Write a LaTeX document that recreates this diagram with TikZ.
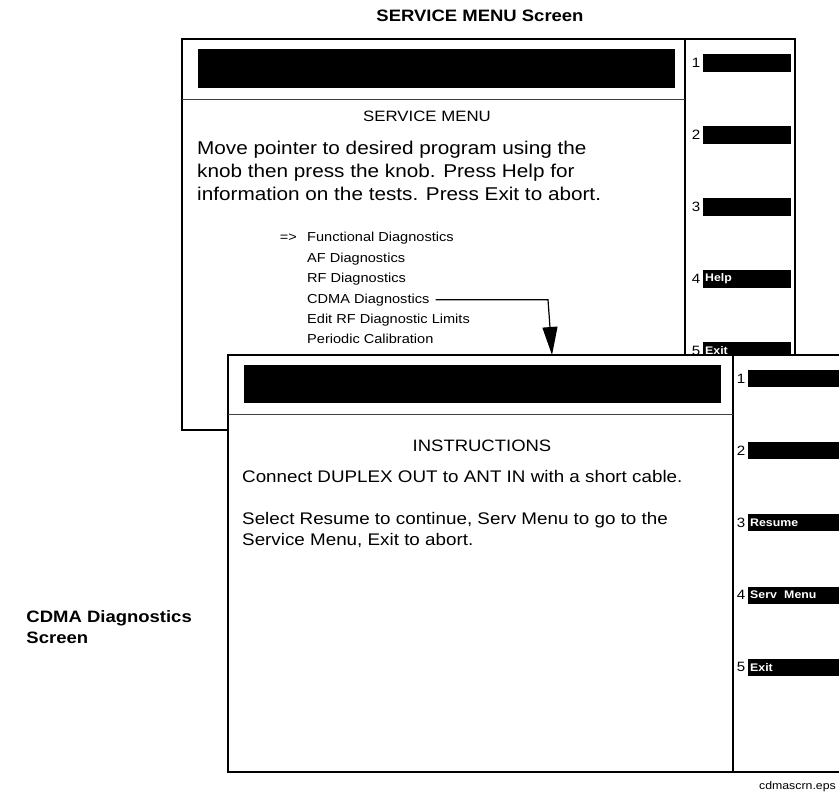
\documentclass[tikz,border=0pt]{standalone}
\usepackage{fontspec}
\setmainfont{Liberation Sans}[FakeStretch=1.12]
\usetikzlibrary{arrows.meta,positioning}

\begin{document}
\begin{tikzpicture}[x=1pt, y=-1pt,
    frame_line/.style={line width=1.2pt, fill=white},
    divider_line/.style={line width=0.9pt, black!75},
    title_bar/.style={fill=black},
    plain_text/.style={anchor=base west, inner sep=0pt},
    menu_item/.style={plain_text, font=\fontsize{13}{15}\selectfont},
    key_num/.style={inner sep=0pt, font=\fontsize{13.5}{15}\selectfont},
    key_bar/.style={fill=black, text=white, anchor=west, align=left, inner xsep=2pt, inner ysep=0pt,
        minimum height=18pt, text width=#1, font=\bfseries\fontsize{11}{12}\selectfont},
    key_bar/.default=84pt,
    caption_text/.style={inner sep=0pt, font=\bfseries\fontsize{16.5}{20}\selectfont}
]
\useasboundingbox (0,0) rectangle (839,794);
\clip (0,0) rectangle (839,794);

% Headings
\node[caption_text, anchor=base] (service_title) at (480,22) {SERVICE MENU Screen};
\node[caption_text, anchor=base east, align=left] (cdma_title) at (192,622) {CDMA Diagnostics};
\node[caption_text, anchor=base west] (cdma_title2) at (cdma_title.base west) [yshift=-21pt] {Screen};
\node[plain_text, anchor=base east, font=\fontsize{11}{13}\selectfont] (file_name) at (836,789) {cdmascrn.eps};

% SERVICE MENU screen (back)
\draw[frame_line] (182,39) rectangle (795,430);
\draw[frame_line] (685,39) -- (685,430);
\draw[divider_line] (182,99) -- (685,99);
\fill[title_bar] (198,49) rectangle (675,88);
\node[plain_text, anchor=base, font=\fontsize{15}{18}\selectfont] (menu_head) at (427,122) {SERVICE MENU};
\node[plain_text, font=\fontsize{18.5}{23}\selectfont] (menu_line1) at (197,155) {Move pointer to desired program using the};
\node[plain_text, font=\fontsize{18.5}{23}\selectfont] (menu_line2) at (197,178) {knob then press the knob. Press Help for};
\node[plain_text, font=\fontsize{18.5}{23}\selectfont] (menu_line3) at (197,201) {information on the tests. Press Exit to abort.};
\node[menu_item, anchor=base east] (pointer) at (297,242) {=>};
\foreach \txt [count=\i] in {Functional Diagnostics, AF Diagnostics, RF Diagnostics,
    CDMA Diagnostics, Edit RF Diagnostic Limits, Periodic Calibration}
    \node[menu_item] (item\i) at (307,{221.6+20.4*\i}) {\txt};
\foreach \k/\lbl in {1/{}, 2/{}, 3/{}, 4/Help, 5/Exit} {
    \node[key_bar=84pt] (bkey\k) at (703,{63+72*(\k-1)}) {\lbl};
    \node[key_num, left=2.5pt of bkey\k] (bnum\k) {\k};
}

% CDMA Diagnostics screen (front)
\draw[frame_line] (228,355) rectangle (860,772);
\draw[frame_line] (733,355) -- (733,772);
\draw[divider_line] (228,414) -- (733,414);
\fill[title_bar] (244,365) rectangle (721,403);
\node[plain_text, anchor=base, font=\fontsize{16.5}{20}\selectfont] (instr_head) at (482,452) {INSTRUCTIONS};
\node[plain_text, font=\fontsize{16.8}{20}\selectfont] (instr_line1) at (242,483) {Connect DUPLEX OUT to ANT IN with a short cable.};
\node[plain_text, font=\fontsize{16.8}{20}\selectfont] (instr_line2) at (242,525) {Select Resume to continue, Serv Menu to go to the};
\node[plain_text, font=\fontsize{16.8}{20}\selectfont] (instr_line3) at (242,545) {Service Menu, Exit to abort.};
\foreach \k/\lbl in {1/{}, 2/{}, 3/Resume, 4/Serv\ \ Menu, 5/Exit} {
    \node[key_bar=110pt, minimum height=17pt] (fkey\k) at (748,{378.5+72.2*(\k-1)}) {\lbl};
    \node[key_num, left=2.5pt of fkey\k] (fnum\k) {\k};
}

% Arrow from menu entry to its screen
\coordinate (arrow_bend) at (548,299);
\coordinate (arrow_tip) at (552,355);
\draw[line width=1.2pt, -{Triangle[length=28pt, width=15pt]}, shorten <=6pt]
    (item4.east) -- (item4.east -| arrow_bend) -- (arrow_tip);

\end{tikzpicture}
\end{document}
